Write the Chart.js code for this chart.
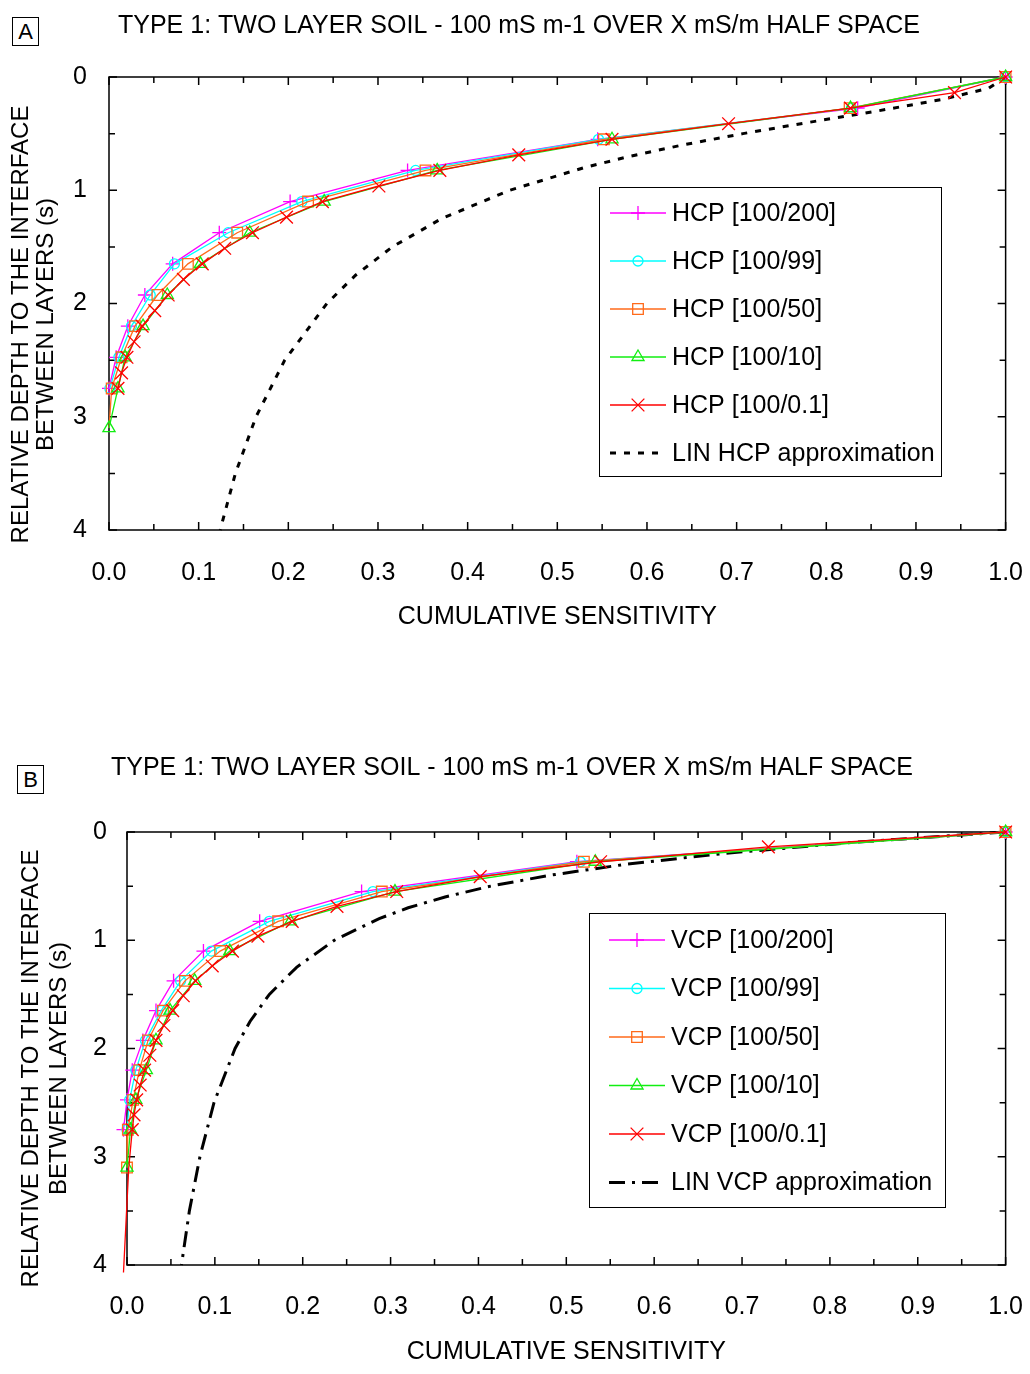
<!DOCTYPE html>
<html>
<head>
<meta charset="utf-8">
<script src="https://cdn.jsdelivr.net/npm/chart.js@4.4.1/dist/chart.umd.min.js"></script>
<style>
  body { margin: 0; background: #fff; }
  #page { position: relative; width: 1030px; height: 1374px; overflow: hidden; font-family: "Liberation Sans", Arial, sans-serif; }
  .panel { position: absolute; left: 0; width: 1030px; }
  .tag { position: absolute; z-index: 2; width: 25px; height: 27px; line-height: 28px; border: 1px solid #000;
         text-align: center; font-size: 22px; background: #fff; color: #000; }
</style>
</head>
<body>
<div id="page">
  <div class="tag" style="left:12px;top:17px">A</div>
  <div class="panel" style="top:0;height:660px"><canvas id="chartA"></canvas></div>
  <div class="tag" style="left:17px;top:765px">B</div>
  <div class="panel" style="top:700px;height:674px"><canvas id="chartB"></canvas></div>
</div>
<script>
const FONT = "'Liberation Sans', Arial, sans-serif";

const titleText = "TYPE 1: TWO LAYER SOIL - 100 mS m-1 OVER X mS/m HALF SPACE";
const xTitle = "CUMULATIVE SENSITIVITY";
const yTitle = ["RELATIVE DEPTH TO THE INTERFACE", "BETWEEN LAYERS (s)"];

// relative depth of the computed points (y values)
const depths = [0, 0.275, 0.55, 0.825, 1.1, 1.375, 1.65, 1.925, 2.2, 2.475, 2.75, 3.1];
const depthsFine = [0, 0.1375, 0.275, 0.4125, 0.55, 0.6875, 0.825, 0.9625, 1.1, 1.2375, 1.375,
  1.5125, 1.65, 1.7875, 1.925, 2.0625, 2.2, 2.3375, 2.475, 2.6125, 2.75, 3.1, 4.07];
const approxDepths = [0, 0.1, 0.2, 0.3, 0.4, 0.5, 0.6, 0.7, 0.8, 1.0, 1.25, 1.5, 1.75, 2.0, 2.5, 3.0, 3.5, 4.0];

// panel A - HCP cumulative sensitivity
const hcpLabels = ["HCP [100/200]", "HCP [100/99]", "HCP [100/50]", "HCP [100/10]", "HCP [100/0.1]", "LIN HCP approximation"];
const hcp200 = [1.0, 0.835, 0.545, 0.333, 0.202, 0.123, 0.071, 0.040, 0.021, 0.008, 0.0];
const hcp99  = [1.0, 0.828, 0.546, 0.342, 0.215, 0.133, 0.073, 0.046, 0.025, 0.011, 0.001];
const hcp50  = [1.0, 0.826, 0.552, 0.353, 0.222, 0.143, 0.088, 0.054, 0.029, 0.014, 0.003, 0.0];
const hcp10  = [1.0, 0.827, 0.561, 0.366, 0.240, 0.157, 0.102, 0.065, 0.038, 0.018, 0.010, 0.0];
const hcp01  = [1.0, 0.943, 0.827, 0.691, 0.561, 0.457, 0.369, 0.301, 0.238, 0.198, 0.160,
  0.129, 0.104, 0.083, 0.066, 0.051, 0.037, 0.028, 0.020, 0.014, 0.010];
const linHcp = [1.000, 0.981, 0.928, 0.857, 0.781, 0.707, 0.640, 0.581, 0.530, 0.447, 0.371,
  0.316, 0.275, 0.243, 0.196, 0.164, 0.141, 0.124];

// panel B - VCP cumulative sensitivity
const vcpLabels = ["VCP [100/200]", "VCP [100/99]", "VCP [100/50]", "VCP [100/10]", "VCP [100/0.1]", "LIN VCP approximation"];
const vcp200 = [1.0, 0.512, 0.267, 0.151, 0.087, 0.053, 0.033, 0.018, 0.006, 0.0, -0.004];
const vcp99  = [1.0, 0.516, 0.280, 0.162, 0.096, 0.061, 0.039, 0.021, 0.010, 0.003, 0.0];
const vcp50  = [1.0, 0.520, 0.290, 0.172, 0.106, 0.066, 0.041, 0.024, 0.014, 0.007, 0.001, 0.0];
const vcp10  = [1.0, 0.533, 0.305, 0.186, 0.117, 0.077, 0.049, 0.033, 0.022, 0.010, 0.004, 0.0];
const vcp01  = [1.0, 0.730, 0.539, 0.402, 0.307, 0.239, 0.188, 0.149, 0.120, 0.097, 0.078,
  0.064, 0.052, 0.042, 0.033, 0.026, 0.020, 0.015, 0.011, 0.008, 0.006, 0.002, -0.004];
const linVcp = [1.000, 0.820, 0.677, 0.566, 0.481, 0.414, 0.362, 0.320, 0.287, 0.236, 0.193,
  0.162, 0.140, 0.123, 0.099, 0.083, 0.071, 0.062];

const marks = [
  { color: '#ff00ff', style: 'cross', r: 7 },
  { color: '#00ffff', style: 'circle', r: 5 },
  { color: '#ff6a1a', style: 'rect', r: 7.5 },
  { color: '#11ee11', style: 'triangle', r: 7 },
  { color: '#ff0000', style: 'crossRot', r: 9 }
];

function pts(xs, ds) {
  return xs.map((x, i) => ({ x: x, y: ds[i] }));
}

function series(label, xs, ds, m, order, shown) {
  const n = shown == null ? xs.length : shown;
  return {
    label, order, mark: m,
    data: pts(xs, ds),
    borderColor: m.color,
    borderWidth: 1.3,
    backgroundColor: 'transparent',
    pointStyle: m.style,
    pointRadius: c => c.dataIndex < n ? m.r : 0,
    pointHoverRadius: 0,
    pointBorderColor: m.color,
    pointBackgroundColor: 'rgba(0,0,0,0)',
    pointBorderWidth: 1.3,
    tension: 0,
    clip: false
  };
}

function approx(label, xs, dash) {
  return {
    label, order: 6, mark: null,
    data: pts(xs, approxDepths),
    borderColor: '#000',
    borderWidth: 3,
    borderDash: dash,
    pointRadius: 0,
    tension: 0,
    clip: false
  };
}

function drawMark(ctx, m, x, y) {
  const r = m.r;
  ctx.beginPath();
  if (m.style === 'cross') {
    ctx.moveTo(x - r, y); ctx.lineTo(x + r, y);
    ctx.moveTo(x, y - r); ctx.lineTo(x, y + r);
  } else if (m.style === 'crossRot') {
    const d = r * Math.SQRT1_2;
    ctx.moveTo(x - d, y - d); ctx.lineTo(x + d, y + d);
    ctx.moveTo(x - d, y + d); ctx.lineTo(x + d, y - d);
  } else if (m.style === 'circle') {
    ctx.arc(x, y, r, 0, Math.PI * 2);
  } else if (m.style === 'rect') {
    const s = r * Math.SQRT1_2;
    ctx.rect(x - s, y - s, 2 * s, 2 * s);
  } else if (m.style === 'triangle') {
    ctx.moveTo(x, y - r);
    ctx.lineTo(x + r * 0.866, y + r / 2);
    ctx.lineTo(x - r * 0.866, y + r / 2);
    ctx.closePath();
  }
  ctx.stroke();
}

// frame round the plot area with inward ticks on all four sides
const frameTicks = {
  id: 'frameTicks',
  beforeDatasetsDraw(chart) {
    const { ctx, chartArea: a, scales: { x, y } } = chart;
    ctx.save();
    ctx.strokeStyle = '#000';
    ctx.lineWidth = 1.5;
    ctx.strokeRect(a.left, a.top, a.right - a.left, a.bottom - a.top);
    ctx.beginPath();
    for (let i = 0; i <= 20; i++) {
      const px = x.getPixelForValue(i * 0.05);
      const len = i % 2 === 0 ? 8 : 6;
      ctx.moveTo(px, a.bottom); ctx.lineTo(px, a.bottom - len);
      ctx.moveTo(px, a.top); ctx.lineTo(px, a.top + len);
    }
    for (let j = 0; j <= 8; j++) {
      const py = y.getPixelForValue(j * 0.5);
      const len = j % 2 === 0 ? 8 : 6;
      ctx.moveTo(a.left, py); ctx.lineTo(a.left + len, py);
      ctx.moveTo(a.right, py); ctx.lineTo(a.right - len, py);
    }
    ctx.stroke();
    ctx.restore();
  }
};

// boxed legend inside the plot area
const boxLegend = {
  id: 'boxLegend',
  afterDraw(chart, args, o) {
    const ctx = chart.ctx;
    ctx.save();
    ctx.fillStyle = '#fff';
    ctx.fillRect(o.x, o.y, o.w, o.h);
    ctx.strokeStyle = '#000';
    ctx.lineWidth = 1;
    ctx.strokeRect(o.x + 0.5, o.y + 0.5, o.w, o.h);
    chart.data.datasets.forEach((d, i) => {
      const cy = o.y + o.row0 + i * o.gap;
      ctx.strokeStyle = d.borderColor;
      ctx.lineWidth = d.borderWidth;
      ctx.setLineDash(d.borderDash || []);
      ctx.beginPath();
      ctx.moveTo(o.x + o.line0, cy);
      ctx.lineTo(o.x + o.line1, cy);
      ctx.stroke();
      ctx.setLineDash([]);
      if (d.mark) {
        ctx.lineWidth = 1.3;
        drawMark(ctx, d.mark, o.x + o.markX, cy);
      }
      ctx.fillStyle = '#000';
      ctx.font = '25px ' + FONT;
      ctx.textBaseline = 'middle';
      ctx.fillText(d.label, o.x + o.textX, cy + 1);
    });
    ctx.restore();
  }
};

// y title is centred a little below the middle of the axis in the reference
const yTitleShift = {
  id: 'yTitleShift',
  afterLayout(chart, args, o) {
    const s = chart.scales.y;
    s.top += o.shift;
    s.bottom += o.shift;
  }
};

function options(p) {
  const f = size => ({ family: FONT, size: size });
  return {
    responsive: true,
    maintainAspectRatio: false,
    animation: false,
    events: [],
    layout: { padding: { left: p.padLeft, right: 7, top: 0, bottom: 0 } },
    plugins: {
      legend: { display: false },
      tooltip: { enabled: false },
      title: {
        display: true, text: titleText, color: '#000',
        font: { family: FONT, size: 25, weight: 'normal' },
        padding: { top: p.titleTop, bottom: p.titleBottom }
      },
      boxLegend: p.legend,
      yTitleShift: { shift: p.yShift }
    },
    scales: {
      x: {
        type: 'linear', min: 0, max: 1,
        // invisible tick marks push the labels down without widening the right margin
        grid: { display: true, drawOnChartArea: false, drawTicks: true, tickLength: p.xTick, color: 'rgba(0,0,0,0)' },
        border: { display: false },
        ticks: {
          stepSize: 0.1, padding: 7, color: '#000', font: f(25),
          maxRotation: 0, autoSkip: false,
          callback: v => v.toFixed(1)
        },
        title: { display: true, text: xTitle, color: '#000', font: f(25), padding: { top: 0, bottom: p.xTitlePad } },
        afterFit: s => { s.height = p.xHeight; }
      },
      y: {
        type: 'linear', reverse: true, min: 0, max: 4,
        grid: { display: false, drawTicks: false },
        border: { display: false },
        ticks: { stepSize: 1, padding: p.yPad, color: '#000', font: f(25) },
        title: {
          display: true, text: yTitle, color: '#000',
          font: { family: FONT, size: 24, lineHeight: p.yLine },
          padding: { top: p.yTitlePad, bottom: 0 }
        },
        afterFit: s => { s.width = p.yWidth; }
      }
    }
  };
}

new Chart(document.getElementById('chartA'), {
  type: 'line',
  data: {
    datasets: [
      series(hcpLabels[0], hcp200, depths, marks[0], 5),
      series(hcpLabels[1], hcp99, depths, marks[1], 4),
      series(hcpLabels[2], hcp50, depths, marks[2], 3, 11),
      series(hcpLabels[3], hcp10, depths, marks[3], 2),
      series(hcpLabels[4], hcp01, depthsFine, marks[4], 1),
      approx(hcpLabels[5], linHcp, [6, 8])
    ]
  },
  options: options({
    padLeft: 15, titleTop: 11, titleBottom: 36, xTick: 21, xTitlePad: 28, xHeight: 130,
    yPad: 22, yTitlePad: -6, yLine: 1.05, yWidth: 94, yShift: 21,
    legend: { x: 599, y: 187, w: 342, h: 289, row0: 26, gap: 48, line0: 11, line1: 67, markX: 39, textX: 73 }
  }),
  plugins: [frameTicks, boxLegend, yTitleShift]
});

new Chart(document.getElementById('chartB'), {
  type: 'line',
  data: {
    datasets: [
      series(vcpLabels[0], vcp200, depths, marks[0], 5),
      series(vcpLabels[1], vcp99, depths, marks[1], 4),
      series(vcpLabels[2], vcp50, depths, marks[2], 3),
      series(vcpLabels[3], vcp10, depths, marks[3], 2),
      series(vcpLabels[4], vcp01, depthsFine, marks[4], 1, 21),
      approx(vcpLabels[5], linVcp, [16, 7, 3, 7])
    ]
  },
  options: options({
    padLeft: 1, titleTop: 53, titleBottom: 49, xTick: 20, xTitlePad: 7, xHeight: 109,
    yPad: 20, yTitlePad: 17, yLine: 1.15, yWidth: 126, yShift: 20,
    legend: { x: 589, y: 213, w: 356, h: 294, row0: 27, gap: 48.5, line0: 20, line1: 76, markX: 48, textX: 82 }
  }),
  plugins: [frameTicks, boxLegend, yTitleShift]
});
</script>
</body>
</html>
